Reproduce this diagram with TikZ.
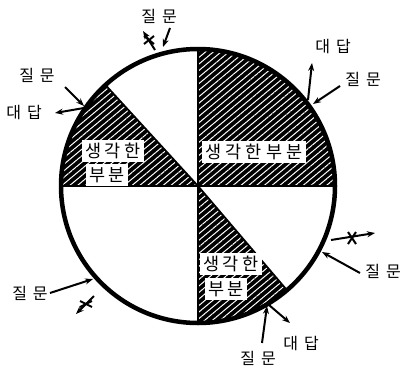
\documentclass[tikz,border=0pt]{standalone}
\usepackage{fontspec}
\newfontfamily\kr{Noto Sans CJK KR}
\usetikzlibrary{patterns.meta,arrows.meta}
\begin{document}
\begin{tikzpicture}[x=1pt,y=1pt,
  streaks/.style={pattern={Lines[angle=40,distance=5pt,line width=1.0pt]},pattern color=white},
  sector/.style={fill=black,postaction={streaks}},
  edge/.style={line width=1.8pt},
  rim/.style={line width=4.5pt},
  lbl/.style={font=\kr\fontsize{16}{16}\selectfont,inner sep=1pt},
  box/.style={font=\kr\fontsize{17.5}{17.5}\selectfont,fill=white,inner sep=3.5pt},
  arr/.style={line width=2pt,-{Stealth[length=8pt,width=6pt]}},
  xmark/.style={line width=2pt}]
\useasboundingbox (0,0) rectangle (407,368);
\coordinate (c) at (198,182);
% hatched sectors
\path[sector] (c) -- ++(0:137) arc[start angle=0,end angle=90,radius=137] -- cycle;
\path[sector] (c) -- ++(132.5:137) arc[start angle=132.5,end angle=180,radius=137] -- cycle;
\path[sector] (c) -- ++(270:137) arc[start angle=270,end angle=310.5,radius=137] -- cycle;
% dividing lines
\draw[edge] (c) ++(0,137) -- ++(0,-274);
\draw[edge] (c) ++(-137,0) -- ++(274,0);
\draw[edge] (c) -- ++(132.5:137);
\draw[edge] (c) -- ++(310.5:137);
\draw[rim] (c) circle[radius=137];
% label boxes
\node[box] (tr) at (254,216) {생\hspace{4pt}각\hspace{4pt}한\hspace{4pt}부\hspace{4pt}분};
\node[box] (tl1) at (113,217) {생\hspace{3pt}각\hspace{3pt}한};
\node[box] (tl2) at (107,193) {부\hspace{3pt}분};
\node[box] (br1) at (231,104) {생\hspace{3pt}각\hspace{3pt}한};
\node[box] (br2) at (226,79) {부\hspace{3pt}분};
% text labels
\node[lbl] (q1) at (159,352) {질\hspace{6pt}문};
\node[lbl] (q2) at (37,293) {질\hspace{6pt}문};
\node[lbl] (a2) at (24,255) {대\hspace{6pt}답};
\node[lbl] (a3) at (333,321) {대\hspace{6pt}답};
\node[lbl] (q3) at (363,289) {질\hspace{6pt}문};
\node[lbl] (q4) at (383,97) {질\hspace{6pt}문};
\node[lbl] (q5) at (30,75) {질\hspace{6pt}문};
\node[lbl] (q6) at (258,10) {질\hspace{6pt}문};
\node[lbl] (a6) at (301,24) {대\hspace{6pt}답};
% arrow end points
\coordinate (q1s) at (170,340); \coordinate (q1e) at (163,321);
\coordinate (x1s) at (155,318); \coordinate (x1e) at (143,337); \coordinate (x1) at (149,328);
\coordinate (q2s) at (65,281);  \coordinate (q2e) at (84,262);
\coordinate (a2s) at (84,260);  \coordinate (a2e) at (55,255);
\coordinate (a3s) at (308,268); \coordinate (a3e) at (312,305);
\coordinate (q3s) at (340,282); \coordinate (q3e) at (313,264);
\coordinate (q4s) at (360,95);  \coordinate (q4e) at (322,116);
\coordinate (x4s) at (331,128); \coordinate (x4e) at (375,135); \coordinate (x4) at (352,130);
\coordinate (q5s) at (50,75);   \coordinate (q5e) at (93,89);
\coordinate (x5s) at (94,72);   \coordinate (x5e) at (76,54);   \coordinate (x5) at (86,64);
\coordinate (q6s) at (262,25);  \coordinate (q6e) at (267,62);
\coordinate (a6s) at (269,63);  \coordinate (a6e) at (290,45);
% arrows
\draw[arr] (q1s) -- (q1e);
\draw[arr] (x1s) -- (x1e);
\draw[xmark] (x1) +(-5,-4) -- +(5,4) +(-5,4) -- +(5,-4);
\draw[arr] (q2s) -- (q2e);
\draw[arr] (a2s) -- (a2e);
\draw[arr] (a3s) -- (a3e);
\draw[arr] (q3s) -- (q3e);
\draw[arr] (q4s) -- (q4e);
\draw[arr] (x4s) -- (x4e);
\draw[xmark] (x4) +(-4,-6) -- +(4,6) +(-4,6) -- +(4,-6);
\draw[arr] (q5s) -- (q5e);
\draw[arr] (x5s) -- (x5e);
\draw[xmark] (x5) +(-6,-3) -- +(6,3) +(-6,3) -- +(6,-3);
\draw[arr] (q6s) -- (q6e);
\draw[arr] (a6s) -- (a6e);
\end{tikzpicture}
\end{document}
